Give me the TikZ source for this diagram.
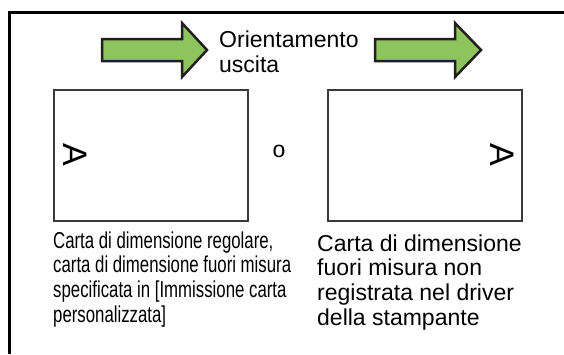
\documentclass[tikz,border=0pt]{standalone}
\usepackage{fontspec}
\setmainfont{Liberation Sans}
\newfontfamily\narrowfont[FakeStretch=0.73]{Liberation Sans}
\definecolor{arrowgreen}{HTML}{8DC45E}
\definecolor{edgegray}{HTML}{231F20}
\definecolor{sheetgray}{HTML}{3A3A3A}

\begin{document}
\begin{tikzpicture}[x=1pt, y=-1pt,
  every node/.style={font=\fontsize{23}{24.6}\selectfont, inner sep=0pt},
  sheet/.style={draw=sheetgray, line width=2pt, minimum width=194pt,
    minimum height=131pt, anchor=north west},
  letterA/.style={font=\fontsize{34}{34}\selectfont, rotate=-90},
  outarrow/.style={draw=edgegray, line width=2.5pt, fill=arrowgreen, line join=miter},
  caption/.style={align=left, anchor=base west}]
  \useasboundingbox (0,0) rectangle (564,354);
  % open frame
  \draw[line width=3pt] (9.5,354) -- (9.5,12.5) -- (564,12.5);
  % output direction arrows
  \draw[outarrow] (102,39) -- (182,39) -- (182,23) -- (207,50) -- (182,77)
    -- (182,61) -- (102,61) -- cycle;
  \draw[outarrow] (375,39) -- (455,39) -- (455,23) -- (481,50) -- (455,77)
    -- (455,61) -- (375,61) -- cycle;
  % base anchor sits on the last line
  \node[caption] (orient) at (219,72) {Orientamento\\uscita};
  % sheets
  \node[sheet] (left) at (53,89) {};
  \node[sheet] (right) at (327,89) {};
  \node[letterA] (leftA) at (75,155) {A};
  \node[letterA] (rightA) at (502,155) {A};
  \node (or) at (279,151) {o};
  % captions
  \node[caption, font=\narrowfont\fontsize{23}{24.6}\selectfont] (regular) at (53,322)
    {Carta di dimensione regolare,\\carta di dimensione fuori misura\\specificata in [Immissione carta\\personalizzata]};
  \node[caption] (custom) at (317,325)
    {Carta di dimensione\\fuori misura non\\registrata nel driver\\della stampante};
\end{tikzpicture}
\end{document}
